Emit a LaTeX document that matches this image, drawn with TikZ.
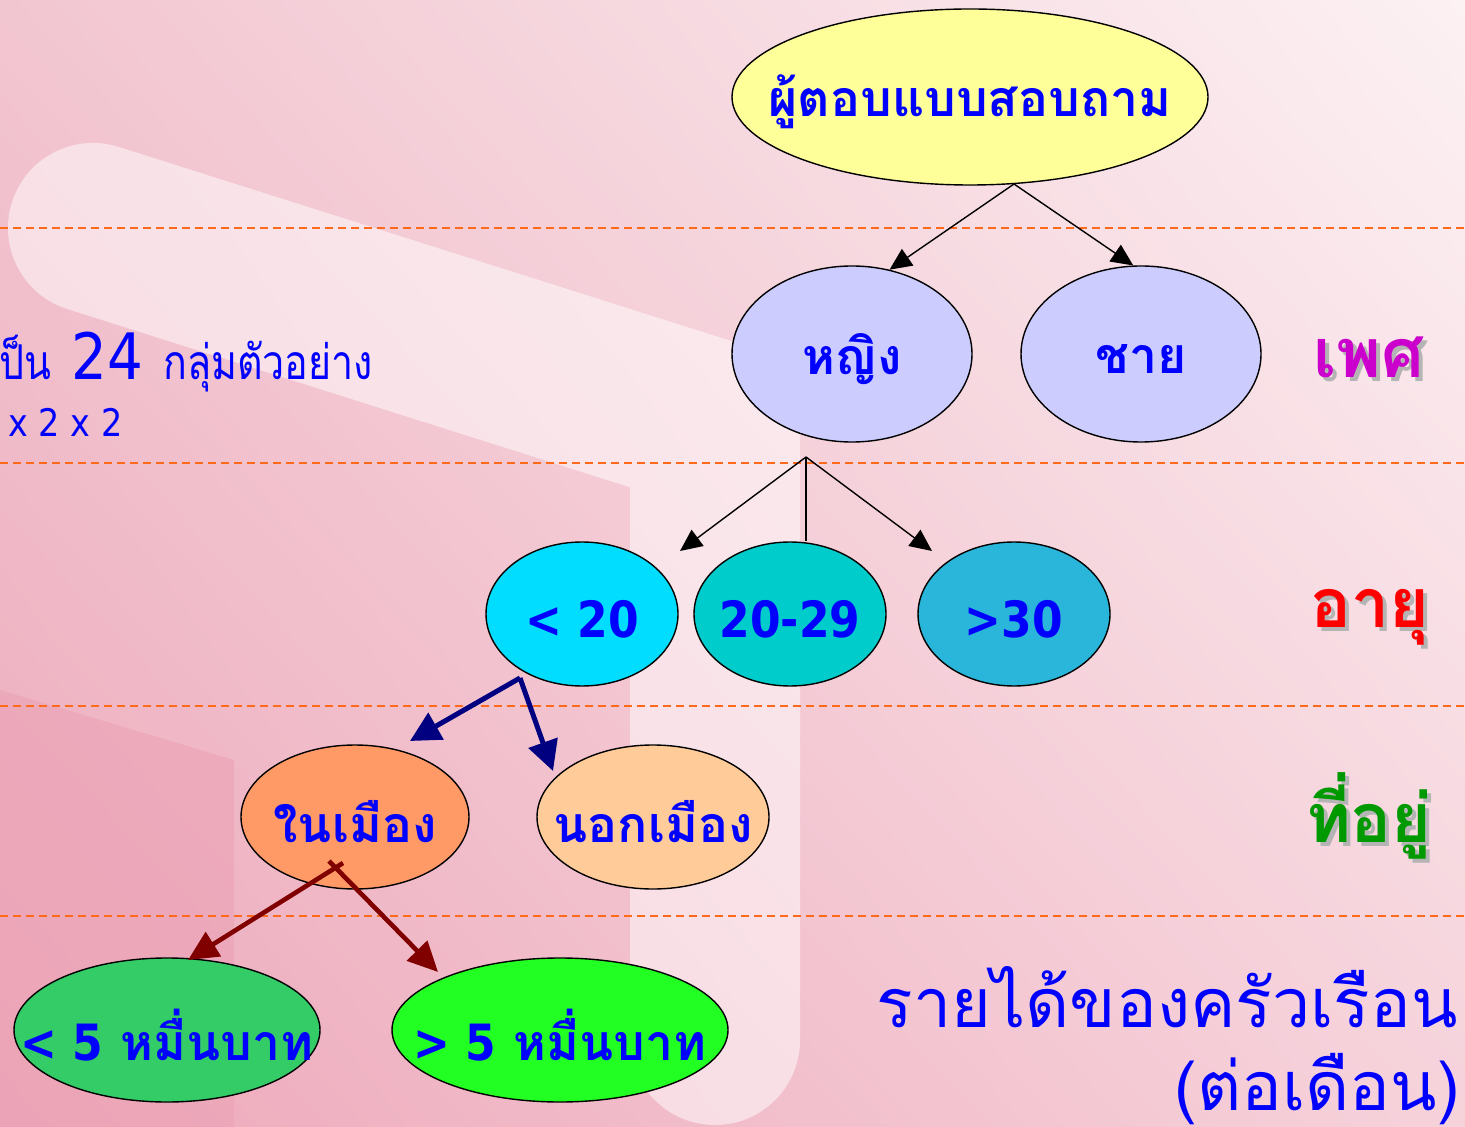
\documentclass[tikz,border=0pt]{standalone}
\usepackage{fontspec}
\setmainfont[Script=Thai]{Loma}
\newfontfamily\latinfont[FakeStretch=0.88]{DejaVu Sans}
\newfontfamily\narrowthai[Script=Thai,FakeStretch=0.82]{Loma}
\usetikzlibrary{arrows.meta,shapes.geometric,shadings}

\definecolor{qblue}{HTML}{0000FF}
\definecolor{yellowfill}{HTML}{FFFF99}
\definecolor{lilacfill}{HTML}{CCCCFF}
\definecolor{cyanfill}{HTML}{00DDFF}
\definecolor{tealfill}{HTML}{00CCCC}
\definecolor{skyfill}{HTML}{29B6DA}
\definecolor{orangefill}{HTML}{FF9966}
\definecolor{peachfill}{HTML}{FFCC99}
\definecolor{greenfill}{HTML}{33CC66}
\definecolor{limefill}{HTML}{22FF22}
\definecolor{dashorange}{HTML}{FF6A1A}
\definecolor{navyline}{HTML}{000080}
\definecolor{maroonline}{HTML}{800000}
\definecolor{sexcolor}{HTML}{CC00CC}
\definecolor{agecolor}{HTML}{FF0000}
\definecolor{homecolor}{HTML}{009900}
\definecolor{shadowgray}{HTML}{B4B4B4}
\definecolor{bgul}{HTML}{F2C6D1}
\definecolor{bgur}{HTML}{FCF1F3}
\definecolor{bgll}{HTML}{EDA8BA}
\definecolor{bglr}{HTML}{F6D2DB}
\definecolor{bgdark}{HTML}{EBA2B5}

\tikzset{
  oval/.style={ellipse, draw=black, line width=0.7pt, inner sep=0pt},
  ovaltext/.style={font=\bfseries\fontsize{25}{30}\selectfont, text=qblue, inner sep=0pt, yshift=-2.5pt},
  level/.style={dashorange, line width=1pt, dash pattern=on 4pt off 2.5pt},
  thinarrow/.style={black, line width=0.7pt, -{Triangle[length=11pt,width=10pt]}},
  navyarrow/.style={navyline, line width=2.5pt, -{Triangle[length=15pt,width=15pt]}},
  redarrow/.style={maroonline, line width=2.3pt, -{Triangle[length=15pt,width=14pt]}},
  sidelabel/.style={font=\bfseries\fontsize{34}{40}\selectfont, inner sep=0pt, anchor=base east},
  incometext/.style={font=\fontsize{34}{40}\selectfont, text=qblue, inner sep=0pt, anchor=base east},
  bluenote/.style={text=qblue, inner sep=0pt, anchor=base west},
}

\begin{document}
\begin{tikzpicture}[x=0.5pt,y=-0.5pt]
\clip (0,0) rectangle (1465,1127);

%Background
\shade[upper left=bgul, upper right=bgur, lower left=bgll, lower right=bglr] (0,0) rectangle (1465,1127);
\fill[bgdark, opacity=0.6] (0,690) -- (234,760) -- (234,1127) -- (0,1127) -- cycle;
\draw[white, opacity=0.5, line width=85pt, line cap=round, line join=round] (93,228) -- (715,425) -- (715,1040);

%Dashed levels
\draw[level] (0,228) -- (1465,228);
\draw[level] (0,463) -- (1465,463);
\draw[level] (0,706) -- (1465,706);
\draw[level] (0,916) -- (1465,916);

%Shape: Ellipse
\node[oval, fill=yellowfill, minimum width=238pt, minimum height=88pt, label={[ovaltext]center:ผู้ตอบแบบสอบถาม}] (top) at (970,97) {};
%Shape: Ellipse
\node[oval, fill=lilacfill, minimum width=120pt, minimum height=88pt, label={[ovaltext]center:หญิง}] (female) at (852,354) {};
\node[oval, fill=lilacfill, minimum width=120pt, minimum height=88pt, label={[ovaltext]center:ชาย}] (male) at (1141,354) {};
%Shape: Ellipse
\node[oval, fill=cyanfill, minimum width=96pt, minimum height=72pt, label={[ovaltext]center:{\latinfont < 20}}] (young) at (582,614) {};
\node[oval, fill=tealfill, minimum width=96pt, minimum height=72pt, label={[ovaltext]center:{\latinfont 20-29}}] (mid) at (790,614) {};
\node[oval, fill=skyfill, minimum width=96pt, minimum height=72pt, label={[ovaltext]center:{\latinfont >30}}] (old) at (1014,614) {};
%Shape: Ellipse
\node[oval, fill=orangefill, minimum width=114pt, minimum height=72pt, label={[ovaltext]center:ในเมือง}] (urban) at (355,817) {};
\node[oval, fill=peachfill, minimum width=116pt, minimum height=72pt, label={[ovaltext]center:นอกเมือง}] (rural) at (653,817) {};
%Shape: Ellipse
\node[oval, fill=greenfill, minimum width=153pt, minimum height=72pt, label={[ovaltext]center:{\latinfont < 5} หมื่นบาท}] (low) at (167,1030) {};
\node[oval, fill=limefill, minimum width=168pt, minimum height=72pt, label={[ovaltext]center:{\latinfont > 5} หมื่นบาท}] (high) at (560,1030) {};

%Straight Lines
\coordinate (topfork) at (1014,184);
\draw[thinarrow] (topfork) -- (female.66);
\draw[thinarrow] (topfork) -- (male.95);
%Straight Lines
\coordinate (agefork) at (806,457);
\coordinate (youngtip) at (680,551);
\coordinate (oldtip) at (932,551);
\draw[thinarrow] (agefork) -- (youngtip);
\draw[black, line width=0.7pt] (agefork) -- (agefork |- mid.north);
\draw[thinarrow] (agefork) -- (oldtip);
%Straight Lines
\coordinate (youngfork) at (520,678);
\coordinate (urbantip) at (410,741);
\coordinate (ruraltip) at (553,771);
\draw[navyarrow] (youngfork) -- (urbantip);
\draw[navyarrow] (youngfork) -- (ruraltip);
%Straight Lines
\coordinate (lowstart) at (343,863);
\coordinate (highstart) at (329,861);
\coordinate (lowtip) at (188,960);
\coordinate (hightip) at (438,972);
\draw[redarrow] (lowstart) -- (lowtip);
\draw[redarrow] (highstart) -- (hightip);

% Text Node
\node[sidelabel, text=shadowgray] (sexshadow) at (1429,382) {เพศ};
\node[sidelabel, text=sexcolor] (sexlabel) at (1425,378) {เพศ};
% Text Node
\node[sidelabel, text=shadowgray] (ageshadow) at (1434,631) {อายุ};
\node[sidelabel, text=agecolor] (agelabel) at (1430,627) {อายุ};
% Text Node
\node[sidelabel, text=shadowgray] (homeshadow) at (1436,846) {ที่อยู่};
\node[sidelabel, text=homecolor] (homelabel) at (1432,842) {ที่อยู่};
% Text Node
\node[incometext] (incomelabel) at (1458,1027) {รายได้ของครัวเรือน};
\node[incometext] (permonth) at (1460,1110) {(ต่อเดือน)};
% Text Node
\node[bluenote, font=\narrowthai\fontsize{24}{28}\selectfont] (samplenote) at (-14,380) {เป็น\hspace{10pt}{\latinfont\fontsize{32}{36}\selectfont 24}\hspace{10pt}กลุ่มตัวอย่าง};
\node[bluenote, font=\latinfont\fontsize{19}{24}\selectfont] (productnote) at (8,437) {x 2 x 2};

\end{tikzpicture}
\end{document}
